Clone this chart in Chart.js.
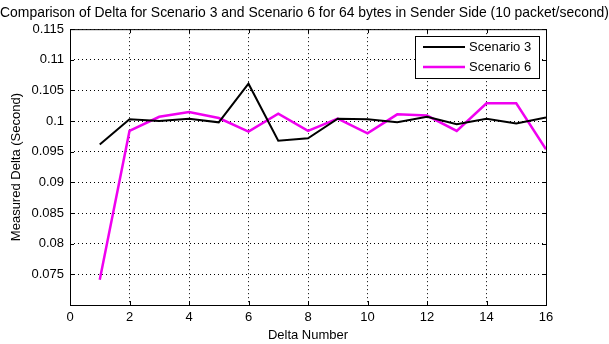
<!DOCTYPE html>
<html>
<head>
<meta charset="utf-8">
<script src="https://cdn.jsdelivr.net/npm/chart.js@4.4.0/dist/chart.umd.min.js"></script>
<style>
  html, body { margin: 0; padding: 0; background: #fff; }
  #wrap { width: 609px; height: 344px; }
</style>
</head>
<body>
<div id="wrap"><canvas id="deltaChart"></canvas></div>
<script>
const deltaNumbers = [1, 2, 3, 4, 5, 6, 7, 8, 9, 10, 11, 12, 13, 14, 15, 16];
const scenario3 = [0.0962, 0.1003, 0.1000, 0.1004, 0.0998, 0.1061, 0.0968, 0.0972,
                   0.1004, 0.1003, 0.0998, 0.1007, 0.0995, 0.1004, 0.0996, 0.1006];
const scenario6 = [0.0741, 0.0984, 0.1007, 0.1015, 0.1005, 0.0983, 0.1012, 0.0984,
                   0.1004, 0.0980, 0.1011, 0.1009, 0.0984, 0.1029, 0.1029, 0.0954];
const seriesNames = ['Scenario 3', 'Scenario 6'];

const FONT = 'Arial, "Liberation Sans", Helvetica, sans-serif';

function toPoints(values) {
  return values.map((v, i) => ({ x: deltaNumbers[i], y: v }));
}

// box round the plot, inward ticks, legend in the top right corner
const matlabFrame = {
  id: 'matlabFrame',
  afterDraw(chart) {
    const { ctx, chartArea: a, scales } = chart;
    ctx.save();
    ctx.strokeStyle = '#000';
    ctx.lineWidth = 1;
    ctx.strokeRect(a.left + 0.5, a.top + 0.5, a.right - a.left, a.bottom - a.top);

    ctx.beginPath();
    scales.x.ticks.forEach(t => {
      const px = Math.round(scales.x.getPixelForValue(t.value)) + 0.5;
      ctx.moveTo(px, a.bottom); ctx.lineTo(px, a.bottom - 4);
      ctx.moveTo(px, a.top); ctx.lineTo(px, a.top + 4);
    });
    scales.y.ticks.forEach(t => {
      const py = Math.round(scales.y.getPixelForValue(t.value)) + 0.5;
      ctx.moveTo(a.left, py); ctx.lineTo(a.left + 4, py);
      ctx.moveTo(a.right, py); ctx.lineTo(a.right - 4, py);
    });
    ctx.stroke();

    // legend
    const bx = 415, by = 36, bw = 124, bh = 42;
    ctx.fillStyle = '#fff';
    ctx.fillRect(bx, by, bw, bh);
    ctx.strokeRect(bx + 0.5, by + 0.5, bw, bh);
    ctx.font = '13px ' + FONT;
    ctx.textBaseline = 'middle';
    chart.data.datasets.forEach((ds, i) => {
      const y = by + 11 + i * 20;
      ctx.strokeStyle = ds.borderColor;
      ctx.lineWidth = ds.borderWidth;
      ctx.beginPath();
      ctx.moveTo(bx + 8, y); ctx.lineTo(bx + 50, y);
      ctx.stroke();
      ctx.fillStyle = '#000';
      ctx.fillText(ds.label, bx + 54, y);
    });
    ctx.restore();
  }
};

new Chart(document.getElementById('deltaChart'), {
  type: 'line',
  data: {
    datasets: [
      {
        label: seriesNames[0],
        data: toPoints(scenario3),
        borderColor: '#000000',
        borderWidth: 2,
        pointRadius: 0,
        tension: 0
      },
      {
        label: seriesNames[1],
        data: toPoints(scenario6),
        borderColor: '#f000f0',
        borderWidth: 2.5,
        pointRadius: 0,
        tension: 0
      }
    ]
  },
  options: {
    responsive: true,
    maintainAspectRatio: false,
    animation: false,
    layout: { padding: 0 },
    plugins: {
      legend: { display: false },
      tooltip: { enabled: false },
      title: {
        display: true,
        text: 'Comparison of Delta for Scenario 3 and Scenario 6 for 64 bytes in Sender Side (10 packet/second)',
        color: '#000',
        font: { family: FONT, size: 14.3, weight: 'normal' },
        padding: { top: 4, bottom: 8 }
      }
    },
    scales: {
      x: {
        type: 'linear',
        min: 0,
        max: 16,
        afterFit(scale) { scale.height = 39; },
        ticks: { stepSize: 2, color: '#000', padding: 5, font: { family: FONT, size: 13 } },
        grid: { color: '#000', drawTicks: false },
        border: { display: false, dash: [1, 3] },
        title: {
          display: true,
          text: 'Delta Number',
          color: '#000',
          font: { family: FONT, size: 13 },
          padding: { top: 0, bottom: 1 }
        }
      },
      y: {
        min: 0.07,
        max: 0.115,
        afterFit(scale) { scale.width = 70; },
        ticks: {
          stepSize: 0.005,
          color: '#000',
          padding: 6,
          font: { family: FONT, size: 13 },
          callback: v => (Math.abs(v - 0.07) < 1e-9 ? '' : String(+v.toFixed(3)))
        },
        grid: { color: '#000', drawTicks: false },
        border: { display: false, dash: [1, 3] },
        title: {
          display: true,
          text: 'Measured Delta (Second)',
          color: '#000',
          font: { family: FONT, size: 13 },
          padding: { top: 9, bottom: 0 }
        }
      },
      // empty right axis: keeps the white margin on the right of the plot
      yRight: {
        position: 'right',
        min: 0.07,
        max: 0.115,
        afterFit(scale) { scale.width = 63; },
        ticks: { display: false },
        grid: { drawOnChartArea: false, drawTicks: false },
        border: { display: false }
      }
    }
  },
  plugins: [matlabFrame]
});
</script>
</body>
</html>
